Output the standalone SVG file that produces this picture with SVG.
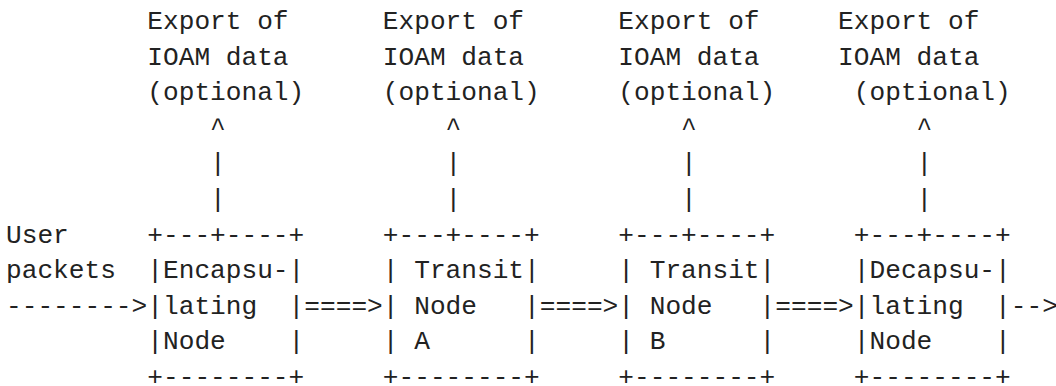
<svg xmlns="http://www.w3.org/2000/svg" width="1056" height="386" viewBox="0 0 1056 386" xml:space="preserve">
<style>
text { font-family: "Liberation Mono", "DejaVu Sans Mono", monospace; font-size: 26.17px; fill: #222; white-space: pre; }
</style>
<rect width="1056" height="386" fill="#fff"/>
<g id="export-labels">
<text x="147.3" y="29">Export of</text>
<text x="382.8" y="29">Export of</text>
<text x="618.3" y="29">Export of</text>
<text x="838.1" y="29">Export of</text>
<text x="147.3" y="64.6">IOAM data</text>
<text x="382.8" y="64.6">IOAM data</text>
<text x="618.3" y="64.6">IOAM data</text>
<text x="838.1" y="64.6">IOAM data</text>
<text x="147.3" y="100.2">(optional)</text>
<text x="382.8" y="100.2">(optional)</text>
<text x="618.3" y="100.2">(optional)</text>
<text x="853.8" y="100.2">(optional)</text>
</g>
<g id="user-packets">
<text x="6" y="242.6">User</text>
<text x="6" y="278.2">packets</text>
</g>
<g id="node-encap">
<text x="147.3" y="242.6">+---+----+</text>
<text x="147.3" y="278.2">|Encapsu-|</text>
<text x="147.3" y="313.8">|lating  |</text>
<text x="147.3" y="349.4">|Node    |</text>
<text x="147.3" y="385">+--------+</text>
</g>
<g id="node-transit-a">
<text x="382.8" y="242.6">+---+----+</text>
<text x="382.8" y="278.2">| Transit|</text>
<text x="382.8" y="313.8">| Node   |</text>
<text x="382.8" y="349.4">| A      |</text>
<text x="382.8" y="385">+--------+</text>
</g>
<g id="node-transit-b">
<text x="618.3" y="242.6">+---+----+</text>
<text x="618.3" y="278.2">| Transit|</text>
<text x="618.3" y="313.8">| Node   |</text>
<text x="618.3" y="349.4">| B      |</text>
<text x="618.3" y="385">+--------+</text>
</g>
<g id="node-decap">
<text x="853.8" y="242.6">+---+----+</text>
<text x="853.8" y="278.2">|Decapsu-|</text>
<text x="853.8" y="313.8">|lating  |</text>
<text x="853.8" y="349.4">|Node    |</text>
<text x="853.8" y="385">+--------+</text>
</g>
<g id="connectors">
<text x="210.1" y="135.8">^</text>
<text x="445.6" y="135.8">^</text>
<text x="681.1" y="135.8">^</text>
<text x="916.6" y="135.8">^</text>
<text x="210.1" y="171.4">|</text>
<text x="445.6" y="171.4">|</text>
<text x="681.1" y="171.4">|</text>
<text x="916.6" y="171.4">|</text>
<text x="210.1" y="207">|</text>
<text x="445.6" y="207">|</text>
<text x="681.1" y="207">|</text>
<text x="916.6" y="207">|</text>
<text x="6" y="313.8">--------&gt;</text>
<text x="304.3" y="313.8">====&gt;</text>
<text x="539.8" y="313.8">====&gt;</text>
<text x="775.3" y="313.8">====&gt;</text>
<text x="1010.8" y="313.8">--&gt;</text>
</g>
</svg>
